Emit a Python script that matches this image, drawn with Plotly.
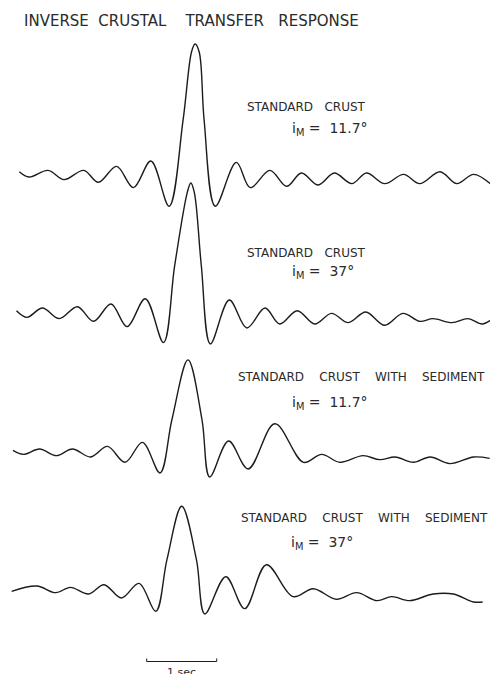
import plotly.graph_objects as go

# ---------------- data (time in seconds, amplitude normalized) ----------------
labels_top = ["STANDARD CRUST", "STANDARD CRUST",
              "STANDARD CRUST WITH SEDIMENT", "STANDARD CRUST WITH SEDIMENT"]
angles = ["11.7°", "37°", "11.7°", "37°"]

time_1 = [-2.51, -2.37, -2.10, -1.87, -1.59, -1.38, -1.12, -0.88, -0.63, -0.37,
          -0.17, -0.05, 0.00, 0.06, 0.13, 0.29, 0.59, 0.79, 1.07, 1.31, 1.52, 1.76,
          1.99, 2.24, 2.45, 2.71, 2.98, 3.21, 3.50, 3.74, 3.98, 4.24]
amp_1 = [0.04, 0.00, 0.05, -0.02, 0.05, -0.04, 0.08, -0.08, 0.12, -0.22,
         0.43, 0.94, 1.00, 0.94, 0.43, -0.22, 0.11, -0.08, 0.05, -0.07, 0.03, -0.06,
         0.03, -0.05, 0.03, -0.05, 0.02, -0.05, 0.04, -0.05, 0.02, -0.06]

time_2 = [-2.55, -2.40, -2.18, -1.94, -1.68, -1.45, -1.20, -0.97, -0.71, -0.45,
          -0.29, -0.11, -0.06, -0.01, 0.09, 0.22, 0.49, 0.74, 1.00, 1.21, 1.46, 1.71,
          1.95, 2.19, 2.44, 2.71, 2.97, 3.21, 3.40, 3.67, 3.90, 4.11, 4.30]
amp_2 = [0.04, -0.01, 0.06, -0.02, 0.07, -0.04, 0.09, -0.08, 0.13, -0.20,
         0.38, 0.93, 1.00, 0.93, 0.38, -0.21, 0.12, -0.09, 0.06, -0.06, 0.04, -0.06,
         0.02, -0.05, 0.03, -0.07, 0.02, -0.04, -0.02, -0.05, -0.02, -0.06, 0.00]

time_3 = [-2.60, -2.45, -2.22, -1.98, -1.75, -1.49, -1.25, -1.00, -0.75, -0.50,
          -0.33, -0.10, 0.10, 0.21, 0.48, 0.76, 1.14, 1.55, 1.81, 2.07, 2.40, 2.64,
          2.86, 3.12, 3.36, 3.64, 3.98, 4.21]
amp_3 = [0.05, 0.02, 0.06, 0.01, 0.06, 0.00, 0.08, -0.04, 0.11, -0.12,
         0.28, 0.73, 0.28, -0.15, 0.12, -0.09, 0.25, -0.04, 0.02, -0.04, 0.01, -0.02,
         0.00, -0.04, 0.00, -0.05, 0.00, -0.01]

time_4 = [-2.62, -2.26, -1.99, -1.78, -1.52, -1.30, -1.05, -0.80, -0.56, -0.40,
          -0.19, 0.02, 0.14, 0.44, 0.71, 1.02, 1.40, 1.69, 2.02, 2.31, 2.60, 2.81,
          3.07, 3.40, 3.69, 3.98, 4.11]
amp_4 = [0.02, 0.06, 0.01, 0.05, 0.00, 0.07, -0.03, 0.08, -0.13, 0.26,
         0.66, 0.26, -0.15, 0.13, -0.11, 0.22, -0.02, 0.04, -0.04, 0.01, -0.05, -0.02,
         -0.05, 0.00, 0.00, -0.06, -0.06]

scale_start = -0.69   # s
scale_len = 1.0       # s
scale_label = "1 sec"
title_words = ["INVERSE", "CRUSTAL", "TRANSFER", "RESPONSE"]

# ---------------- layout geometry ----------------
W, H = 498, 674
OFF = 8.0            # page body margin offset of the plot div
PX_PER_SEC = 70.0
PX_PER_AMP = 133.0
T0_PX = 195.0
baselines_px = [177, 316, 457, 594]

series = [(time_1, amp_1), (time_2, amp_2), (time_3, amp_3), (time_4, amp_4)]
ink = "#1c1c1c"
txt = "#2a2a2a"
NB = "\u00a0"

fig = go.Figure()
for i, (tt, aa) in enumerate(series):
    fig.add_trace(go.Scatter(
        x=tt, y=aa, mode="lines",
        line=dict(color=ink, width=1.4, shape="spline", smoothing=1.0),
        yaxis="y" if i == 0 else f"y{i+1}", showlegend=False, hoverinfo="skip"))

ax_common = dict(visible=False, showgrid=False, zeroline=False, fixedrange=True)
layout = dict(
    width=W, height=H, margin=dict(l=0, r=0, t=0, b=0),
    paper_bgcolor="white", plot_bgcolor="white",
    xaxis=dict(range=[(OFF - T0_PX) / PX_PER_SEC, (W + OFF - T0_PX) / PX_PER_SEC],
               domain=[0, 1], **ax_common),
    showlegend=False,
)
for i, b in enumerate(baselines_px):
    name = "yaxis" if i == 0 else f"yaxis{i+1}"
    bf = b - OFF
    cfg = dict(range=[-(H - bf) / PX_PER_AMP, bf / PX_PER_AMP], domain=[0, 1], **ax_common)
    if i > 0:
        cfg["overlaying"] = "y"
    layout[name] = cfg
fig.update_layout(**layout)

def px(x):
    return (x - OFF) / W

def py(y):
    return 1 - (y - OFF) / H

font_main = "DejaVu Sans, Liberation Sans, sans-serif"
ann = []
title = (title_words[0] + NB * 2 + title_words[1] + NB * 4 +
         title_words[2] + NB * 3 + title_words[3])
ann.append(dict(text=title, x=px(22), y=py(20.5), xanchor="left", yanchor="middle",
                font=dict(family=font_main, size=15, color=txt)))
label_pos = [(245, 106.7, 290, 129), (245, 253.3, 290, 271.7),
             (236, 376.7, 290, 403.3), (239, 518.3, 289, 543.3)]
for (lx, ly, ax_, ay), lab, ang in zip(label_pos, labels_top, angles):
    gap = NB * (4 if "WITH" in lab else 3)
    ann.append(dict(text=lab.replace(" ", gap), x=px(lx), y=py(ly), xanchor="left",
                    yanchor="middle", font=dict(family=font_main, size=12, color=txt)))
    ann.append(dict(text=f"i<sub>M</sub>{NB}={NB}{NB}{ang}", x=px(ax_), y=py(ay), xanchor="left",
                    yanchor="middle", font=dict(family=font_main, size=14, color=txt)))

# scale bar
bar_y = py(661.5)
tick_h = 3 / H
fig.add_shape(type="line", xref="x", yref="paper", x0=scale_start, x1=scale_start + scale_len,
              y0=bar_y, y1=bar_y, line=dict(color=ink, width=1))
for xv in (scale_start, scale_start + scale_len):
    fig.add_shape(type="line", xref="x", yref="paper", x0=xv, x1=xv,
                  y0=bar_y, y1=bar_y + tick_h, line=dict(color=ink, width=1))
ann.append(dict(text=scale_label, xref="x", yref="paper", x=scale_start + scale_len / 2,
                y=py(664), xanchor="center", yanchor="top",
                font=dict(family=font_main, size=11, color=txt)))
for a in ann:
    a.setdefault("xref", "paper")
    a.setdefault("yref", "paper")
    a["showarrow"] = False
fig.update_layout(annotations=ann)

fig.write_html("out.html")
